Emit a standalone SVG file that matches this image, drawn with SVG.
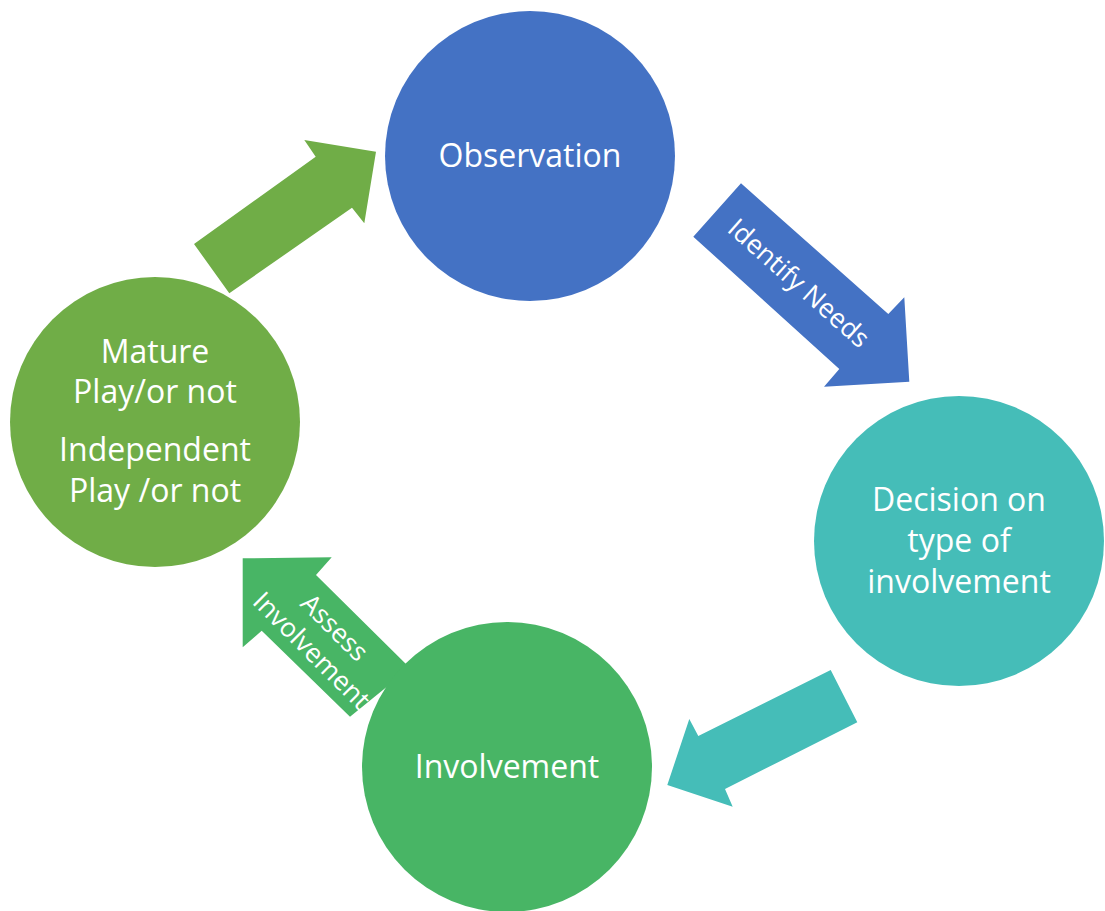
<svg xmlns="http://www.w3.org/2000/svg" width="1105" height="911" viewBox="0 0 1105 911">
<style>
text{font-family:"Open Sans","Noto Sans","Liberation Sans",sans-serif;fill:#ffffff;text-anchor:middle}
.big{font-size:32px}
.lbl{font-size:26.5px}
</style>
<rect width="1105" height="911" fill="#ffffff"/>
<g id="connectors">
<polygon id="arrow-mature-observation" fill="#70AD47" points="194,244 315.7,156.7 304.3,140 376,151.7 364.3,223.3 352,207.7 229.3,293.3"/>
<g id="arrow-identify-needs">
<polygon fill="#4472C4" points="741,183.3 888.3,314 904.3,297.3 909.3,381.7 824,386.7 839.3,369 693.3,236.7"/>
<text class="lbl" transform="translate(799,283) rotate(41.6)" x="0" y="9.3">Identify Needs</text>
</g>
<polygon id="arrow-decision-involvement" fill="#45BDB8" points="830.7,670 698.3,736 689.3,719 667.3,785 732.7,806.7 725,789 857.3,722.3"/>
<g id="arrow-assess-involvement">
<polygon fill="#48B565" points="242.7,558.3 331.7,557.3 316,575 410,668 350,716.7 261.7,630.7 242.7,647.3"/>
<text class="lbl" transform="translate(323.4,638.7) rotate(45)"><tspan x="0" y="-6.7">Assess</tspan><tspan x="0" y="25.8">Involvement</tspan></text>
</g>
</g>
<g id="node-observation">
<circle cx="530" cy="156" r="145" fill="#4472C4"/>
<text class="big" x="530" y="166.7">Observation</text>
</g>
<g id="node-decision">
<circle cx="959" cy="541" r="145" fill="#45BDB8"/>
<text class="big"><tspan x="959" y="510.7">Decision on</tspan><tspan x="959" y="551.5">type of</tspan><tspan x="959" y="592.7">involvement</tspan></text>
</g>
<g id="node-involvement">
<circle cx="507" cy="767" r="145" fill="#48B565"/>
<text class="big" x="507" y="777.7">Involvement</text>
</g>
<g id="node-mature">
<circle cx="155" cy="422" r="145" fill="#70AD47"/>
<text class="big"><tspan x="155" y="363.3">Mature</tspan><tspan x="155" y="403.3">Play/or not</tspan><tspan x="155" y="460.7">Independent</tspan><tspan x="155" y="501.7">Play /or not</tspan></text>
</g>
</svg>
